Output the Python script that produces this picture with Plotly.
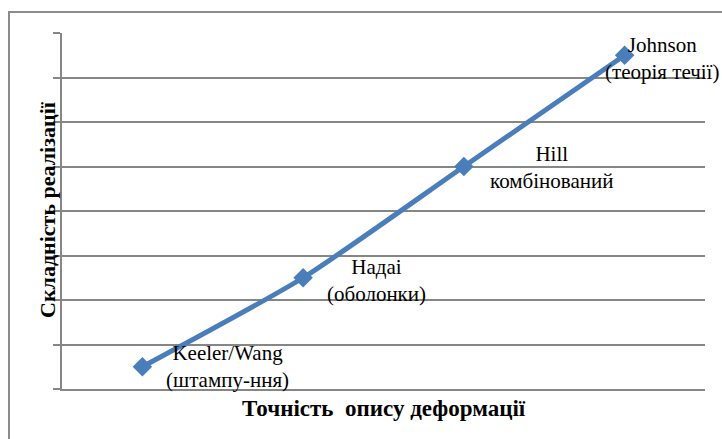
import plotly.graph_objects as go

# Data
categories = ["Keeler/Wang", "Надаі", "Hill", "Johnson"]
point_labels = ["Keeler/Wang<br>(штампу-ння)", "Надаі<br>(оболонки)",
                "Hill<br>комбінований", "Johnson<br>(теорія течії)"]
values = [0.5, 2.5, 5.0, 7.5]

x_title = "Точність  опису деформації"
y_title = "Складність реалізації"

# label offsets (pixels) relative to the points
label_dx = [85, 73, 88, 37]
label_dy = [0, -3, -1, -3]

W, H = 722, 439
ML, MR, MT, MB = 62, 17, 33, 50
PW, PH = W - ML - MR, H - MT - MB

blue = "#4A7EBB"
grey = "#868686"
font_family = "Times New Roman, Liberation Serif, DejaVu Serif, serif"

fig = go.Figure()
fig.add_trace(go.Scatter(
    x=categories, y=values, mode="lines+markers",
    line=dict(color=blue, width=5, shape="spline", smoothing=0.6),
    marker=dict(symbol="diamond", size=15, color=blue),
    showlegend=False, hoverinfo="skip",
))

annotations = []
for c, v, t, dx, dy in zip(categories, values, point_labels, label_dx, label_dy):
    annotations.append(dict(
        x=c, y=v, xref="x", yref="y", text=t, showarrow=False,
        xshift=dx, yshift=dy, align="center",
        xanchor="center", yanchor="middle",
        font=dict(family=font_family, size=21, color="#000"),
    ))

# axis titles
annotations.append(dict(
    x=(384 - ML) / PW, y=-(408 - MT - PH) / PH, xref="paper", yref="paper",
    xanchor="center", yanchor="middle",
    text="<b>" + x_title + "</b>", showarrow=False,
    font=dict(family=font_family, size=23, color="#000"),
))
annotations.append(dict(
    x=(48 - ML) / PW, y=1 - (210 - MT) / PH, xref="paper", yref="paper",
    xanchor="center", yanchor="middle",
    text="<b>" + y_title + "</b>", showarrow=False, textangle=-90,
    font=dict(family=font_family, size=22, color="#000"),
))

fig.update_layout(
    width=W, height=H,
    margin=dict(l=ML, r=MR, t=MT, b=MB),
    paper_bgcolor="white", plot_bgcolor="white",
    font=dict(family=font_family),
    annotations=annotations,
    shapes=[dict(
        type="rect", xref="paper", yref="paper",
        x0=(9 - ML) / PW, x1=(W + 5 - ML) / PW,
        y0=-(H + 5 - MT - PH) / PH, y1=1 + (MT - 12) / PH,
        line=dict(color="#8c8c8c", width=2), fillcolor="rgba(0,0,0,0)",
        layer="below",
    )],
    xaxis=dict(
        type="category", range=[-0.5, len(categories) - 0.5],
        showgrid=False, zeroline=False, showticklabels=False,
        showline=True, linecolor=grey, linewidth=1.5, ticks="",
    ),
    yaxis=dict(
        range=[0, 8], dtick=1, showticklabels=False, zeroline=False,
        showgrid=True, gridcolor=grey, gridwidth=1.5,
        showline=True, linecolor=grey, linewidth=1.5,
        ticks="outside", ticklen=7, tickcolor=grey, tickwidth=1.5,
    ),
)

fig.write_html("out.html")
